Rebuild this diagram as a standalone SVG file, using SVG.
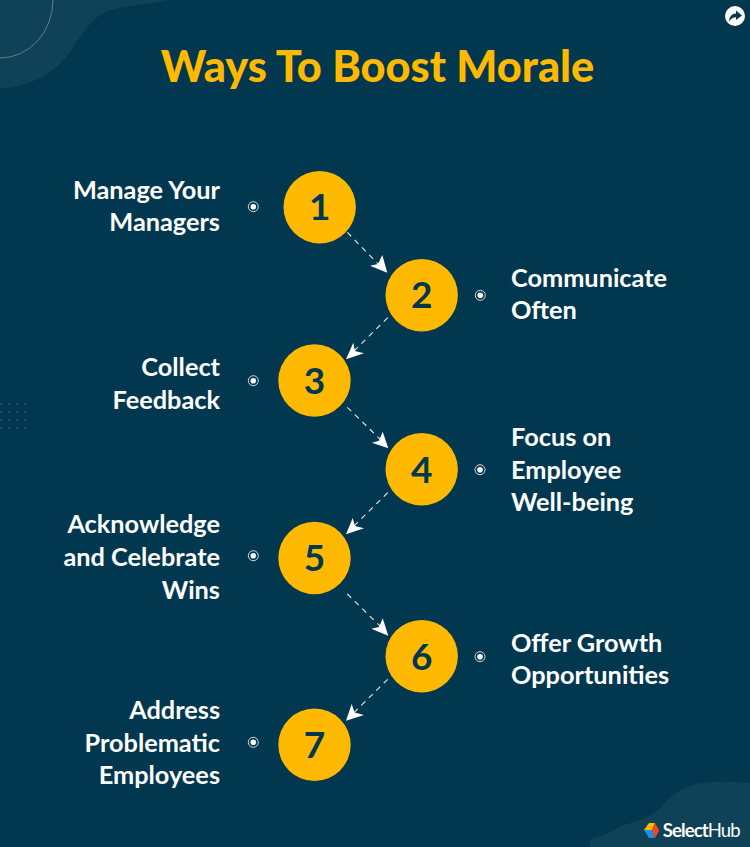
<svg xmlns="http://www.w3.org/2000/svg" width="750" height="847" viewBox="0 0 750 847">
<style>
.lab{font-family:"Lato","Liberation Sans",sans-serif;font-weight:700;font-size:25.300px;fill:#fff}
.l{text-anchor:end}
.num{font-family:"Lato","Liberation Sans",sans-serif;font-weight:700;font-size:37px;fill:#01384f;text-anchor:middle}
.c{fill:#ffb900}
.dr{fill:none;stroke:#cfdbe0;stroke-width:1}
.dc{fill:#fff}
.conn{fill:none;stroke:#e6edf0;stroke-width:1.100;stroke-dasharray:5.500 5}
.ah{fill:#fff}
.dot{fill:#2a5a6d}
</style>
<rect width="750" height="847" fill="#01384f"/>
<g id="decor">
<path d="M0 0H168C150 4 125 6 110 10C100 13 93 20 80 37C70 52 65 60 55 68C40 80 25 86 0 89Z" fill="#0f4257"/>
<path d="M53 0A53 58 0 0 1 0 58" fill="none" stroke="#5b8091" stroke-width="1"/>
<path d="M590 839C600 837 606 835 612 831C620 825 633 823 645 818C660 812 662 804 672 796C684 786 700 782 717 782C730 782 740 782 750 783V847H590Z" fill="#0f4257"/>
<g class="dot"><circle cx="1" cy="404" r="1"/><circle cx="9" cy="404" r="1"/><circle cx="17" cy="404" r="1"/><circle cx="25" cy="404" r="1"/><circle cx="1" cy="412" r="1"/><circle cx="9" cy="412" r="1"/><circle cx="17" cy="412" r="1"/><circle cx="25" cy="412" r="1"/><circle cx="1" cy="420" r="1"/><circle cx="9" cy="420" r="1"/><circle cx="17" cy="420" r="1"/><circle cx="25" cy="420" r="1"/><circle cx="1" cy="428" r="1"/><circle cx="9" cy="428" r="1"/><circle cx="17" cy="428" r="1"/><circle cx="25" cy="428" r="1"/></g>
</g>
<g id="share"><circle cx="735" cy="16" r="10" fill="#fff"/><path d="M729 21.500C729.500 16.500 732 13.500 736 13.500V10.500L742 15.500L736 20V17.300C733 17.300 731 18.800 729 21.500Z" fill="#01384f"/></g>
<text id="title" x="377.500" y="82" text-anchor="middle" style="font-family:'Lato','Liberation Sans',sans-serif;font-weight:900;font-size:43.300px;fill:#ffb900">Ways To Boost Morale</text>
<g id="connectors">
<path class="conn" d="M347.300 232.300L382 268"/><path class="ah" d="M387.300 272.700L370 265.700L378 264L382.300 255Z"/>
<path class="conn" d="M387.700 317.700L352 353"/><path class="ah" d="M346 359.300L353.300 342.700L355 351L364 353.300Z"/>
<path class="conn" d="M347.300 407.300L382 441"/><path class="ah" d="M388.300 448.300L372 442.700L379 440.700L382.700 431.700Z"/>
<path class="conn" d="M387.700 492.700L352 528"/><path class="ah" d="M346 534.300L352.700 518L355 526L364 528.300Z"/>
<path class="conn" d="M347.300 594L382 628"/><path class="ah" d="M388.300 635.700L371.300 628.700L379 627L382.700 618.300Z"/>
<path class="conn" d="M387.700 679.300L352 714.500"/><path class="ah" d="M346 720.700L351.700 704L354.500 712.500L364 715Z"/>
</g>
<g id="node1"><circle class="c" cx="319.700" cy="207.200" r="36.200"/><text class="num" x="319.700" y="220">1</text><circle class="dr" cx="253.300" cy="206.700" r="5"/><circle class="dc" cx="253.300" cy="206.700" r="2.800"/><text class="lab l" x="220" y="199">Manage Your</text><text class="lab l" x="220" y="231">Managers</text></g>
<g id="node2"><circle class="c" cx="421.700" cy="295.200" r="36.200"/><text class="num" x="421.700" y="308.300">2</text><circle class="dr" cx="480.300" cy="295.300" r="5"/><circle class="dc" cx="480.300" cy="295.300" r="2.800"/><text class="lab" x="511" y="287">Communicate</text><text class="lab" x="511" y="319">Often</text></g>
<g id="node3"><circle class="c" cx="314.500" cy="380.500" r="36.200"/><text class="num" x="314.500" y="394">3</text><circle class="dr" cx="253.300" cy="380.700" r="5"/><circle class="dc" cx="253.300" cy="380.700" r="2.800"/><text class="lab l" x="220" y="376">Collect</text><text class="lab l" x="220" y="409">Feedback</text></g>
<g id="node4"><circle class="c" cx="421.700" cy="469.300" r="36.200"/><text class="num" x="421.700" y="482.700">4</text><circle class="dr" cx="480" cy="469.700" r="5"/><circle class="dc" cx="480" cy="469.700" r="2.800"/><text class="lab" x="511" y="446">Focus on</text><text class="lab" x="511" y="479">Employee</text><text class="lab" x="511" y="511">Well-being</text></g>
<g id="node5"><circle class="c" cx="314.500" cy="558" r="36.200"/><text class="num" x="314.500" y="571">5</text><circle class="dr" cx="253.300" cy="555.700" r="5"/><circle class="dc" cx="253.300" cy="555.700" r="2.800"/><text class="lab l" x="220" y="533">Acknowledge</text><text class="lab l" x="220" y="566">and Celebrate</text><text class="lab l" x="220" y="599">Wins</text></g>
<g id="node6"><circle class="c" cx="421.700" cy="656.200" r="36.200"/><text class="num" x="421.700" y="670">6</text><circle class="dr" cx="480" cy="656.700" r="5"/><circle class="dc" cx="480" cy="656.700" r="2.800"/><text class="lab" x="511" y="652">Offer Growth</text><text class="lab" x="511" y="684">Opportunities</text></g>
<g id="node7"><circle class="c" cx="314.500" cy="744.800" r="36.200"/><text class="num" x="314.500" y="758.300">7</text><circle class="dr" cx="253.300" cy="742.300" r="5"/><circle class="dc" cx="253.300" cy="742.300" r="2.800"/><text class="lab l" x="220" y="719">Address</text><text class="lab l" x="220" y="752">Problematic</text><text class="lab l" x="220" y="784">Employees</text></g>
<g id="logo">
<path d="M644 830L649 823H655L652 830Z" fill="#ffb900"/>
<path d="M644 830H652L655 838H649Z" fill="#1f8fe0"/>
<path d="M655 823L659.300 830.500L655 838L652 830Z" fill="#f0471f"/>
<text x="662.700" y="836.700" textLength="78" style="font-family:'Lato','Liberation Sans',sans-serif;font-size:18.500px;fill:#fff"><tspan font-weight="700">Select</tspan><tspan font-weight="400">Hub</tspan></text>
</g>
</svg>
